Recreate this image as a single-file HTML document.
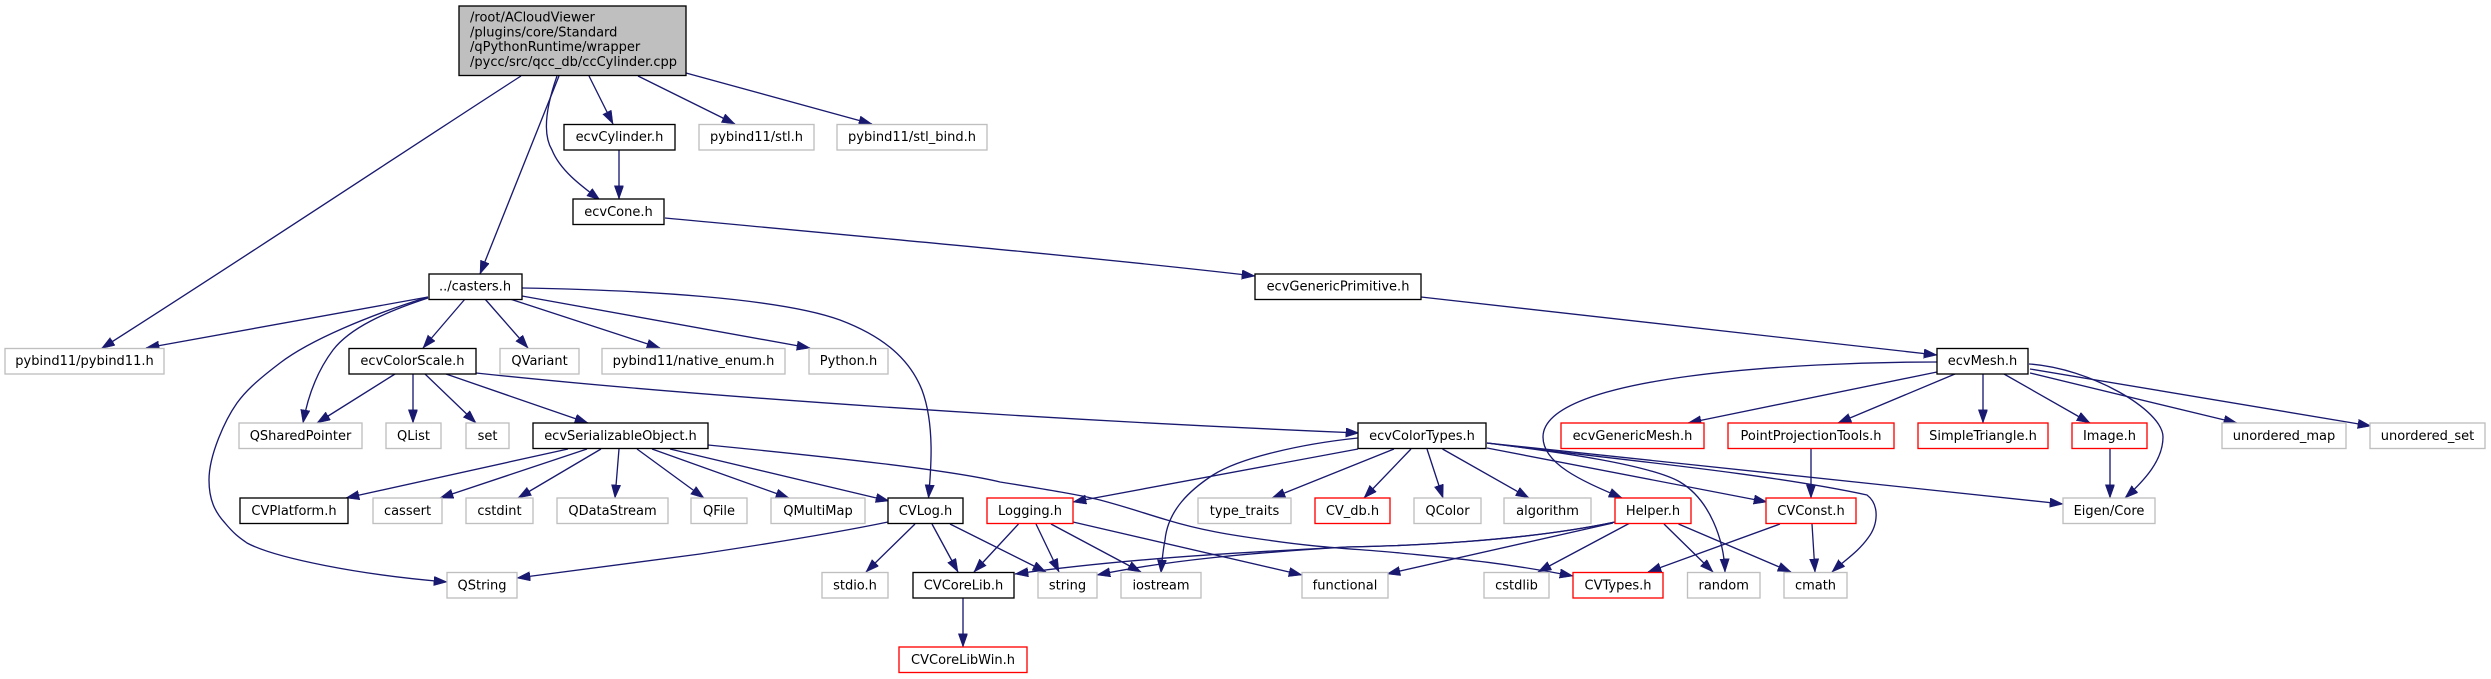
<!DOCTYPE html>
<html><head><meta charset="utf-8"><style>
html,body{margin:0;padding:0;background:#fff;width:2491px;height:679px;overflow:hidden}
svg{display:block}
text{font-family:"DejaVu Sans","Liberation Sans",sans-serif;font-size:13px;fill:#000;text-anchor:middle}
.e path{fill:none;stroke:#191970;stroke-width:1.33;marker-end:url(#a)}
.n rect{fill:#fff;stroke-width:1.33}
.b rect{stroke:#000}.g rect{stroke:#bfbfbf}.r rect{stroke:#f00}
</style></head><body>
<svg xmlns="http://www.w3.org/2000/svg" width="2491" height="679" viewBox="0 0 2491 679">
<defs><marker id="a" markerUnits="userSpaceOnUse" markerWidth="15" markerHeight="11" refX="13.3" refY="4.7" orient="auto"><path d="M0,0L13.3,4.7L0,9.4Z" fill="#191970" stroke="#191970" stroke-width="0.5"/></marker></defs>
<g class="e">
<path d="M521,76C440,128 250,254 101.500,348.500"/>
<path d="M559,76L480,274"/>
<path d="M557,76C545,110 543,135 552,150C560,170 580,185 600,200"/>
<path d="M589,76L613,124"/>
<path d="M638,76L735,124"/>
<path d="M686,73L872,124"/>
<path d="M619,150L619,199"/>
<path d="M665,218C890,239 1100,258 1255,276"/>
<path d="M1421,297L1937,355"/>
<path d="M428,297L146,348"/>
<path d="M428,298C385,312 350,328 333,350C318,370 308,395 303,423"/>
<path d="M428,297C370,315 310,340 280,363C255,382 245,392 237,403C225,420 209,455 209,480C209,500 215,512 225,523C235,535 240,538 247,543C275,558 360,575 447,582"/>
<path d="M465,299L423,348"/>
<path d="M485,299L528,348"/>
<path d="M510,299L660,348"/>
<path d="M522,296L810,348"/>
<path d="M522,288C640,290 780,298 840,320C885,337 910,360 922,390C935,425 931,470 928.500,498"/>
<path d="M395,374L317,423"/>
<path d="M413,374L413,423"/>
<path d="M425,374L476,423"/>
<path d="M446,374L588,423"/>
<path d="M476,373C700,397 1050,420 1359,433"/>
<path d="M568,449L346,498"/>
<path d="M587,449L440,498"/>
<path d="M601,449L518,498"/>
<path d="M619,449L615,498"/>
<path d="M637,449L704,498"/>
<path d="M652,449L789,498"/>
<path d="M670,449L889,501"/>
<path d="M708,445C830,457 950,470 1000,482C1050,490 1080,495 1100,500C1130,508 1140,512 1167,520C1200,530 1230,535 1267,540C1320,548 1360,549 1400,553C1450,558 1500,562 1573,576"/>
<path d="M888,522C830,534 760,545 700,554C640,562 580,570 517,578"/>
<path d="M915,524L866,572"/>
<path d="M932,524L958,572"/>
<path d="M950,524L1046,572"/>
<path d="M1018.500,524L974,572"/>
<path d="M1036,524L1059,572"/>
<path d="M1051,524L1141,572"/>
<path d="M1073,522L1302,575"/>
<path d="M963,598L963,647"/>
<path d="M1358,449L1073,502"/>
<path d="M1358,438C1300,444 1240,458 1213,475C1190,490 1168,510 1165,540C1163,550 1162,560 1161,573"/>
<path d="M1394,449L1272,498"/>
<path d="M1411,449L1364,498"/>
<path d="M1427,449L1443,498"/>
<path d="M1442.500,449L1529,498"/>
<path d="M1487,448L1767,502"/>
<path d="M1487,443L2063,504"/>
<path d="M1487,443C1560,452 1650,465 1680,482C1710,500 1724,540 1725,572"/>
<path d="M1487,443C1600,458 1760,472 1867,495C1880,505 1878,525 1868,538C1858,552 1845,560 1832,572"/>
<path d="M1937,362C1800,362 1543,375 1543,437C1543,465 1585,482 1622,498"/>
<path d="M1937,372L1688,423"/>
<path d="M1955,374L1838,423"/>
<path d="M1983,374L1983,423"/>
<path d="M2004,374L2090,423"/>
<path d="M2029,364C2090,368 2163,410 2163,437C2163,460 2145,480 2125,498"/>
<path d="M2030,373L2237,423"/>
<path d="M2030,369L2371,426"/>
<path d="M1811,449L1811,498"/>
<path d="M2110,449L2110,498"/>
<path d="M1615,522C1520,542 1400,546 1347,547C1250,552 1130,558 1015,574"/>
<path d="M1615,522C1520,542 1400,546 1347,547C1250,553 1170,560 1097,575"/>
<path d="M1613,523L1387,574"/>
<path d="M1630,523L1538,572"/>
<path d="M1780,524L1648,572"/>
<path d="M1664,524L1713,572"/>
<path d="M1678.500,524L1791,572"/>
<path d="M1812,524L1815,572"/>
</g>
<g class="n">
<rect x="459" y="6" width="227" height="69.500" style="fill:#bfbfbf;stroke:#000"/>
<text style="text-anchor:start" x="470" y="21.700">/root/ACloudViewer</text>
<text style="text-anchor:start" x="470" y="36.400">/plugins/core/Standard</text>
<text style="text-anchor:start" x="470" y="51">/qPythonRuntime/wrapper</text>
<text style="text-anchor:start" x="470" y="66">/pycc/src/qcc_db/ccCylinder.cpp</text>
<g class="b">
<rect x="564" y="124.500" width="111" height="25.500"/><text x="619.500" y="141">ecvCylinder.h</text>
<rect x="573" y="199" width="91" height="25.500"/><text x="618.500" y="216">ecvCone.h</text>
<rect x="429" y="274" width="93" height="25.500"/><text x="475" y="290.500">../casters.h</text>
<rect x="1255" y="274" width="166" height="25.500"/><text x="1338" y="290.500">ecvGenericPrimitive.h</text>
<rect x="349" y="348.500" width="127" height="25.500"/><text x="412.500" y="365">ecvColorScale.h</text>
<rect x="1937" y="348.500" width="91" height="25.500"/><text x="1982.500" y="365">ecvMesh.h</text>
<rect x="533" y="423" width="175" height="25.500"/><text x="620.500" y="440">ecvSerializableObject.h</text>
<rect x="1358" y="423" width="128" height="25.500"/><text x="1422" y="440">ecvColorTypes.h</text>
<rect x="240" y="498" width="108" height="25.500"/><text x="294" y="515">CVPlatform.h</text>
<rect x="888" y="498" width="75" height="25.500"/><text x="925.500" y="515">CVLog.h</text>
<rect x="913" y="572.500" width="101" height="25.500"/><text x="963.500" y="589.500">CVCoreLib.h</text>
</g>
<g class="g">
<rect x="699" y="124.500" width="115" height="25.500"/><text x="756.500" y="141">pybind11/stl.h</text>
<rect x="837" y="124.500" width="150" height="25.500"/><text x="912" y="141">pybind11/stl_bind.h</text>
<rect x="5" y="348.500" width="159" height="25.500"/><text x="84.500" y="365">pybind11/pybind11.h</text>
<rect x="500" y="348.500" width="79" height="25.500"/><text x="539.500" y="365">QVariant</text>
<rect x="602" y="348.500" width="183" height="25.500"/><text x="693.500" y="365">pybind11/native_enum.h</text>
<rect x="809" y="348.500" width="79" height="25.500"/><text x="848.500" y="365">Python.h</text>
<rect x="239" y="423" width="123" height="25.500"/><text x="300.500" y="440">QSharedPointer</text>
<rect x="386" y="423" width="55" height="25.500"/><text x="413.500" y="440">QList</text>
<rect x="466" y="423" width="43" height="25.500"/><text x="487.500" y="440">set</text>
<rect x="2222" y="423" width="124" height="25.500"/><text x="2284" y="440">unordered_map</text>
<rect x="2370" y="423" width="115" height="25.500"/><text x="2427.500" y="440">unordered_set</text>
<rect x="373" y="498" width="69" height="25.500"/><text x="407.500" y="515">cassert</text>
<rect x="466" y="498" width="67" height="25.500"/><text x="499.500" y="515">cstdint</text>
<rect x="557" y="498" width="111" height="25.500"/><text x="612.500" y="515">QDataStream</text>
<rect x="691" y="498" width="56" height="25.500"/><text x="719" y="515">QFile</text>
<rect x="771" y="498" width="94" height="25.500"/><text x="818" y="515">QMultiMap</text>
<rect x="1198" y="498" width="93" height="25.500"/><text x="1244.500" y="515">type_traits</text>
<rect x="1414" y="498" width="67" height="25.500"/><text x="1447.500" y="515">QColor</text>
<rect x="1504" y="498" width="87" height="25.500"/><text x="1547.500" y="515">algorithm</text>
<rect x="2063" y="498" width="92" height="25.500"/><text x="2109" y="515">Eigen/Core</text>
<rect x="447" y="572.500" width="70" height="25.500"/><text x="482" y="589.500">QString</text>
<rect x="822" y="572.500" width="66" height="25.500"/><text x="855" y="589.500">stdio.h</text>
<rect x="1038" y="572.500" width="59" height="25.500"/><text x="1067.500" y="589.500">string</text>
<rect x="1121" y="572.500" width="80" height="25.500"/><text x="1161" y="589.500">iostream</text>
<rect x="1302" y="572.500" width="86" height="25.500"/><text x="1345" y="589.500">functional</text>
<rect x="1484" y="572.500" width="65" height="25.500"/><text x="1516.500" y="589.500">cstdlib</text>
<rect x="1687.500" y="572.500" width="72.500" height="25.500"/><text x="1723.700" y="589.500">random</text>
<rect x="1784" y="572.500" width="63" height="25.500"/><text x="1815.500" y="589.500">cmath</text>
</g>
<g class="r">
<rect x="1561" y="423" width="143" height="25.500"/><text x="1632.500" y="440">ecvGenericMesh.h</text>
<rect x="1728" y="423" width="166" height="25.500"/><text x="1811" y="440">PointProjectionTools.h</text>
<rect x="1918" y="423" width="130" height="25.500"/><text x="1983" y="440">SimpleTriangle.h</text>
<rect x="2072" y="423" width="75" height="25.500"/><text x="2109.500" y="440">Image.h</text>
<rect x="987" y="498" width="86" height="25.500"/><text x="1030" y="515">Logging.h</text>
<rect x="1315" y="498" width="75" height="25.500"/><text x="1352.500" y="515">CV_db.h</text>
<rect x="1615" y="498" width="76" height="25.500"/><text x="1653" y="515">Helper.h</text>
<rect x="1766" y="498" width="90" height="25.500"/><text x="1811" y="515">CVConst.h</text>
<rect x="1573" y="572.500" width="90" height="25.500"/><text x="1618" y="589.500">CVTypes.h</text>
<rect x="899" y="647" width="128" height="25.500"/><text x="963" y="664">CVCoreLibWin.h</text>
</g>
</g>
</svg>
</body></html>
